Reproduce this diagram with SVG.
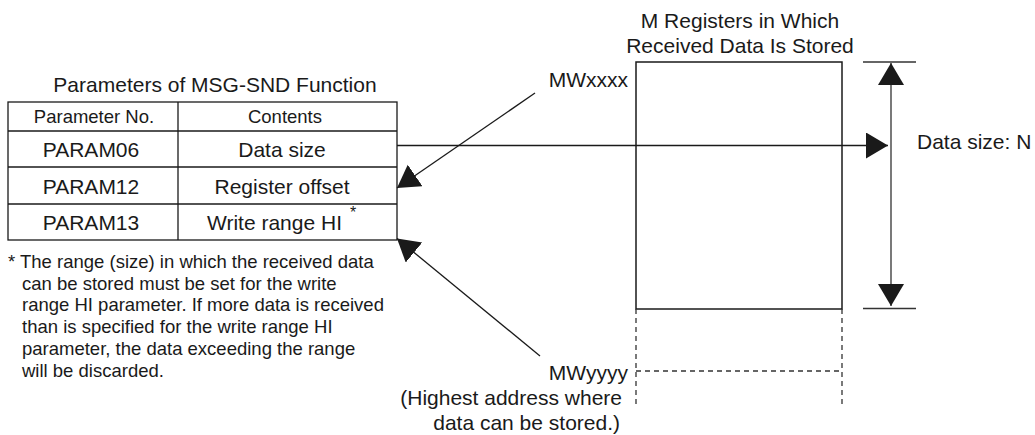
<svg xmlns="http://www.w3.org/2000/svg" width="1035" height="435" viewBox="0 0 1035 435">
<style>
text{font-family:"Liberation Sans",Arial,sans-serif;fill:#1a1a1a}
.big{font-size:21px}
.sm{font-size:18.5px}
.mid{text-anchor:middle}
.end{text-anchor:end}
.ln{stroke:#1a1a1a;stroke-width:1.3;fill:none}
.dash{stroke:#333;stroke-width:1.3;stroke-dasharray:5 4;fill:none}
.arr{stroke:#1a1a1a;stroke-width:1.3;fill:none;marker-end:url(#ah)}
</style>
<defs>
<marker id="ah" markerUnits="userSpaceOnUse" markerWidth="24" markerHeight="28" refX="22" refY="13" orient="auto">
<path d="M0,0 L22,13 L0,26 Z" fill="#1a1a1a"/>
</marker>
<marker id="dh" markerUnits="userSpaceOnUse" markerWidth="24" markerHeight="28" refX="22" refY="13" orient="auto-start-reverse">
<path d="M0,0 L22,13 L0,26 Z" fill="#1a1a1a"/>
</marker>
</defs>

<g id="param-table">
<text class="big mid" x="215" y="92">Parameters of MSG-SND Function</text>
<rect class="ln" x="8" y="102" width="389" height="138"/>
<line class="ln" x1="178" y1="102" x2="178" y2="240"/>
<line class="ln" x1="8" y1="131" x2="397" y2="131"/>
<line class="ln" x1="8" y1="167" x2="397" y2="167"/>
<line class="ln" x1="8" y1="204" x2="397" y2="204"/>
<text class="sm mid" x="94" y="123">Parameter No.</text>
<text class="sm mid" x="285" y="123">Contents</text>
<text class="big mid" x="91" y="157">PARAM06</text>
<text class="big mid" x="282" y="157">Data size</text>
<text class="big mid" x="91" y="193.5">PARAM12</text>
<text class="big mid" x="282" y="193.5">Register offset</text>
<text class="big mid" x="91" y="230">PARAM13</text>
<text class="big" x="207" y="230">Write range HI</text>
<text style="font-size:16px" x="350" y="218">*</text>
</g>

<g id="footnote">
<text class="sm" x="8" y="268">* The range (size) in which the received data</text>
<text class="sm" x="22" y="289.7">can be stored must be set for the write</text>
<text class="sm" x="22" y="311.4">range HI parameter. If more data is received</text>
<text class="sm" x="22" y="333.1">than is specified for the write range HI</text>
<text class="sm" x="22" y="354.8">parameter, the data exceeding the range</text>
<text class="sm" x="22" y="376.5">will be discarded.</text>
</g>

<g id="m-registers">
<text class="big mid" x="740" y="27.5">M Registers in Which</text>
<text class="big mid" x="740" y="53">Received Data Is Stored</text>
<rect x="636" y="62" width="206" height="247" fill="none" stroke="#1a1a1a" stroke-width="1.5"/>
<polyline class="dash" points="636,309 636,407"/>
<polyline class="dash" points="842,309 842,407"/>
<line class="dash" x1="636" y1="371" x2="842" y2="371"/>
</g>

<g id="labels">
<text class="big end" x="628" y="87">MWxxxx</text>
<text class="big end" x="628" y="380">MWyyyy</text>
<text class="big end" x="622" y="405">(Highest address where</text>
<text class="big end" x="620" y="430">data can be stored.)</text>
<text class="big" x="917" y="148.5">Data size: N</text>
</g>

<g id="connectors">
<line class="arr" x1="397" y1="145.5" x2="888" y2="145.5"/>
<line class="arr" x1="535" y1="93" x2="397" y2="188"/>
<line class="arr" x1="540" y1="356" x2="397" y2="238.5"/>
<line x1="863" y1="62" x2="916" y2="62" stroke="#333" stroke-width="1.3"/>
<line x1="863" y1="308.5" x2="916" y2="308.5" stroke="#333" stroke-width="1.3"/>
<line x1="891" y1="63" x2="891" y2="306" stroke="#6b6b6b" stroke-width="1.8" marker-start="url(#dh)" marker-end="url(#dh)"/>
</g>
</svg>
